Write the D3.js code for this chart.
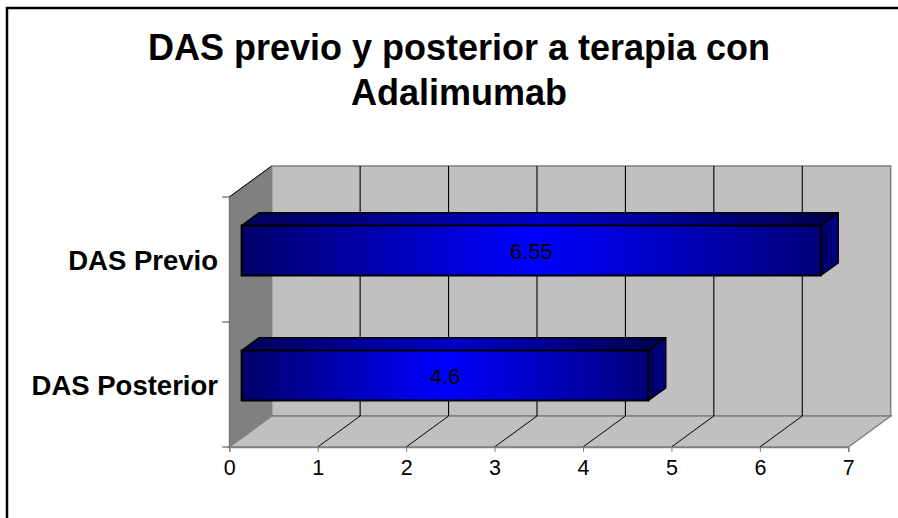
<!DOCTYPE html>
<html>
<head>
<meta charset="utf-8">
<script src="https://cdn.jsdelivr.net/npm/d3@7"></script>
<style>
  html, body { margin: 0; padding: 0; background: #fff; }
  svg { display: block; font-family: Arial, "Liberation Sans", sans-serif; }
</style>
</head>
<body>
<svg id="chart" width="898" height="518"></svg>
<script>
// data
const categories = ["DAS Previo", "DAS Posterior"];
const values = [6.55, 4.6];
const labels = ["6.55", "4.6"];
const xTicks = [0, 1, 2, 3, 4, 5, 6, 7];
const titleLines = ["DAS previo y posterior a terapia con", "Adalimumab"];

const svg = d3.select("#chart");
const W = 898, H = 518;

// 3d geometry: front plane scales + depth offset
const x = d3.scaleLinear().domain([0, 7]).range([229.3, 848.3]);
const y = d3.scaleBand().domain(categories).range([197, 447]).paddingInner(0).paddingOuter(0);
const DX = 42.4, DY = -31;
const pt = (vx, py, d) => [x(vx) + d * DX, py + d * DY];
const poly = pts => "M" + pts.map(p => p.join(",")).join("L") + "Z";

// frame
svg.append("rect").attr("x", 7).attr("y", 8).attr("width", W + 20).attr("height", H + 20)
    .attr("fill", "none").attr("stroke", "#000").attr("stroke-width", 2.5);

// gradients
const defs = svg.append("defs");
function grad(id, stops) {
    const g = defs.append("linearGradient").attr("id", id).attr("x1", 0).attr("x2", 1).attr("y1", 0).attr("y2", 0);
    stops.forEach(s => g.append("stop").attr("offset", s[0]).attr("stop-color", s[1]));
}
grad("front", [[0, "#00006a"], [0.5, "#0000ff"], [1, "#00007a"]]);
grad("top", [[0, "#000058"], [0.5, "#0000c8"], [1, "#000048"]]);
grad("side", [[0, "#00005a"], [1, "#00008c"]]);

const y0 = y.range()[0], y1 = y.range()[1];

// left wall
svg.append("path").attr("d", poly([pt(0, y0, 0), pt(0, y0, 1), pt(0, y1, 1), pt(0, y1, 0)]))
    .attr("fill", "#808080").attr("stroke", "#6a6a6a").attr("stroke-width", 1);
svg.append("line")
    .attr("x1", pt(0, y0, 0)[0]).attr("y1", pt(0, y0, 0)[1])
    .attr("x2", pt(0, y0, 1)[0]).attr("y2", pt(0, y0, 1)[1])
    .attr("stroke", "#000").attr("stroke-width", 1);

// back wall
svg.append("path").attr("d", poly([pt(0, y0, 1), pt(7, y0, 1), pt(7, y1, 1), pt(0, y1, 1)]))
    .attr("fill", "#c0c0c0").attr("stroke", "#808080").attr("stroke-width", 1.5);

// floor
svg.append("path").attr("d", poly([pt(0, y1, 0), pt(7, y1, 0), pt(7, y1, 1), pt(0, y1, 1)]))
    .attr("fill", "#c0c0c0").attr("stroke", "#808080").attr("stroke-width", 1.5);

// gridlines on back wall and floor
const inner = xTicks.filter(t => t > 0 && t < 7);
svg.append("g").selectAll("line").data(inner).join("line")
    .attr("x1", d => pt(d, y0, 1)[0]).attr("y1", d => pt(d, y0, 1)[1])
    .attr("x2", d => pt(d, y1, 1)[0]).attr("y2", d => pt(d, y1, 1)[1])
    .attr("stroke", "#000").attr("stroke-width", 1.1);
svg.append("g").selectAll("line").data(inner).join("line")
    .attr("x1", d => pt(d, y1, 0)[0]).attr("y1", d => pt(d, y1, 0)[1])
    .attr("x2", d => pt(d, y1, 1)[0]).attr("y2", d => pt(d, y1, 1)[1])
    .attr("stroke", "#000").attr("stroke-width", 1);

// x axis
const xAxis = svg.append("g").attr("transform", `translate(0,${y1})`)
    .call(d3.axisBottom(x).tickValues(xTicks).tickFormat(d3.format("d")).tickSize(5).tickPadding(8));
xAxis.select(".domain").attr("stroke", "#808080").attr("stroke-width", 1.5);
xAxis.selectAll(".tick line").attr("stroke", "#808080");
xAxis.selectAll(".tick text").attr("font-size", 21.5).attr("fill", "#000")
    .attr("font-family", "Arial, 'Liberation Sans', sans-serif");

// y axis (category boundaries as ticks)
const yEdges = [y0, ...categories.map(c => y(c) + y.bandwidth())];
svg.append("g").selectAll("line").data(yEdges).join("line")
    .attr("x1", x(0) - 7).attr("x2", x(0)).attr("y1", d => d).attr("y2", d => d)
    .attr("stroke", "#404040").attr("stroke-width", 1);
svg.append("g").selectAll("text").data(categories).join("text")
    .attr("x", 218).attr("y", d => y(d) + y.bandwidth() / 2 + 10)
    .attr("text-anchor", "end").attr("font-size", 27.5).attr("font-weight", "bold")
    .text(d => d);

// bars
const dA = 0.29, dB = 0.70, barFrac = 0.4;
const bars = svg.append("g").selectAll("g").data(categories).join("g");
bars.each(function (c, i) {
    const g = d3.select(this);
    const bh = y.bandwidth() * barFrac;
    const top = y(c) + (y.bandwidth() - bh) / 2, bot = top + bh;
    const v = values[i];
    // top face
    g.append("path").attr("d", poly([pt(0, top, dA), pt(v, top, dA), pt(v, top, dB), pt(0, top, dB)]))
        .attr("fill", "url(#top)").attr("stroke", "#000").attr("stroke-width", 1.5).attr("stroke-linejoin", "round");
    // end face
    g.append("path").attr("d", poly([pt(v, top, dA), pt(v, top, dB), pt(v, bot, dB), pt(v, bot, dA)]))
        .attr("fill", "url(#side)").attr("stroke", "#000").attr("stroke-width", 1.5).attr("stroke-linejoin", "round");
    // front face
    g.append("path").attr("d", poly([pt(0, top, dA), pt(v, top, dA), pt(v, bot, dA), pt(0, bot, dA)]))
        .attr("fill", "url(#front)").attr("stroke", "#000").attr("stroke-width", 2);
    // value label
    const cx = (pt(0, top, dA)[0] + pt(v, top, dA)[0]) / 2;
    const cy = (pt(0, top, dA)[1] + pt(0, bot, dA)[1]) / 2;
    g.append("text").attr("x", cx).attr("y", cy + 8).attr("text-anchor", "middle")
        .attr("font-size", 22).attr("fill", "#000").text(labels[i]);
});

// title
svg.append("g").selectAll("text").data(titleLines).join("text")
    .attr("x", 459).attr("y", (d, i) => 60 + i * 45)
    .attr("text-anchor", "middle").attr("font-size", 36).attr("font-weight", "bold")
    .text(d => d);
</script>
</body>
</html>
